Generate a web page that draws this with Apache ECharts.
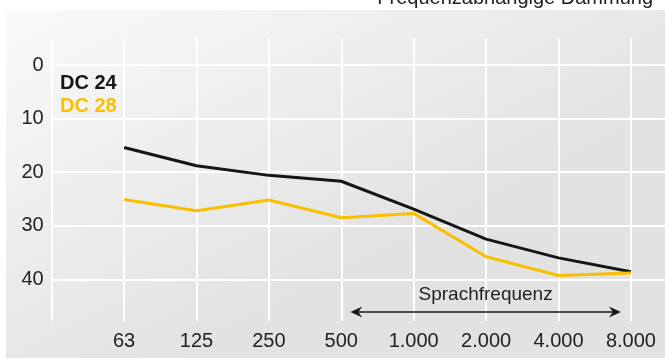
<!DOCTYPE html>
<html>
<head>
<meta charset="utf-8">
<script src="https://cdn.jsdelivr.net/npm/echarts@6/dist/echarts.min.js"></script>
<style>
html,body{margin:0;padding:0;background:#fff;}
#c{width:665px;height:363px;}
</style>
</head>
<body>
<div id="c"></div>
<script>
const categories = ['', '63', '125', '250', '500', '1.000', '2.000', '4.000', '8.000', ''];
const dc24 = [null, 15.4, 18.8, 20.6, 21.7, 26.9, 32.5, 36.0, 38.6, null];
const dc28 = [null, 25.1, 27.2, 25.2, 28.5, 27.7, 35.8, 39.3, 38.8, null];
const yTicks = [0, 10, 20, 30, 40];
const seriesNames = ['DC 24', 'DC 28'];
const titleText = 'Frequenzabhängige Dämmung';
const rangeLabel = 'Sprachfrequenz';
const rangeFrom = '500';
const rangeTo = '8.000';

const FONT = '"Liberation Sans", Arial, sans-serif';
const chart = echarts.init(document.getElementById('c'), null, {renderer: 'canvas'});

function baseGraphics() {
  return [
    {
      type: 'rect', z: -10, silent: true,
      shape: {x: 6, y: 10, width: 700, height: 348},
      style: {
        fill: new echarts.graphic.LinearGradient(0, 0, 0.25, 1, [
          {offset: 0, color: '#fafafa'},
          {offset: 1, color: '#e2e2e2'}
        ])
      }
    },
    {
      type: 'text', right: 12, top: -12, z: 10,
      style: {text: titleText, font: '20px ' + FONT, fill: '#222'}
    }
  ];
}

const option = {
  animation: false,
  backgroundColor: '#ffffff',
  textStyle: {fontFamily: FONT},
  graphic: baseGraphics(),
  legend: {
    orient: 'vertical',
    left: 50, top: 68,
    itemWidth: 0, itemHeight: 20, itemGap: 3.5,
    icon: 'rect',
    selectedMode: false,
    data: [
      {name: seriesNames[0], textStyle: {color: '#161616'}},
      {name: seriesNames[1], textStyle: {color: '#f9bf00'}}
    ],
    textStyle: {fontSize: 20, fontWeight: 'bold', fontFamily: FONT}
  },
  grid: {left: 51.7, width: 651.6, top: 38.2, height: 282.9, containLabel: false, outerBoundsMode: 'none'},
  xAxis: {
    type: 'category',
    data: categories,
    boundaryGap: false,
    axisLine: {show: true, lineStyle: {color: '#ffffff', width: 2}},
    axisTick: {show: false},
    axisLabel: {color: '#222', fontSize: 20, margin: 10, fontFamily: FONT},
    splitLine: {show: true, lineStyle: {color: '#ffffff', width: 2}}
  },
  yAxis: {
    type: 'value',
    inverse: true,
    min: -5, max: 47.8,
    axisLine: {show: false},
    axisTick: {show: false, customValues: yTicks},
    axisLabel: {color: '#222', fontSize: 20, margin: 8, fontFamily: FONT, customValues: yTicks},
    splitLine: {show: true, lineStyle: {color: '#ffffff', width: 2}}
  },
  series: [
    {
      name: seriesNames[0], type: 'line', data: dc24,
      symbol: 'none', color: '#161616',
      lineStyle: {width: 3, color: '#161616'}
    },
    {
      name: seriesNames[1], type: 'line', data: dc28,
      symbol: 'none', color: '#f9bf00',
      lineStyle: {width: 3, color: '#f9bf00'}
    }
  ]
};
chart.setOption(option);

// range arrow annotation, positioned via axis scales
const pA = chart.convertToPixel({xAxisIndex: 0, yAxisIndex: 0}, [rangeFrom, 46.1]);
const pB = chart.convertToPixel({xAxisIndex: 0, yAxisIndex: 0}, [rangeTo, 46.1]);
const x1 = pA[0] + 9, x2 = pB[0] - 10, y = pA[1];
chart.setOption({
  graphic: baseGraphics().concat([
    {
      type: 'line', z: 20, silent: true,
      shape: {x1: x1 + 4, y1: y, x2: x2 - 4, y2: y},
      style: {stroke: '#1a1a1a', lineWidth: 1.5}
    },
    {
      type: 'polygon', z: 20, silent: true,
      shape: {points: [[x1, y], [x1 + 12, y - 5.5], [x1 + 8, y], [x1 + 12, y + 5.5]]},
      style: {fill: '#1a1a1a'}
    },
    {
      type: 'polygon', z: 20, silent: true,
      shape: {points: [[x2, y], [x2 - 12, y - 5.5], [x2 - 8, y], [x2 - 12, y + 5.5]]},
      style: {fill: '#1a1a1a'}
    },
    {
      type: 'text', z: 20, silent: true,
      x: (x1 + x2) / 2, y: y - 17,
      style: {text: rangeLabel, font: '19px ' + FONT, fill: '#222', align: 'center', verticalAlign: 'middle'}
    }
  ])
}, {replaceMerge: ['graphic']});
</script>
</body>
</html>
